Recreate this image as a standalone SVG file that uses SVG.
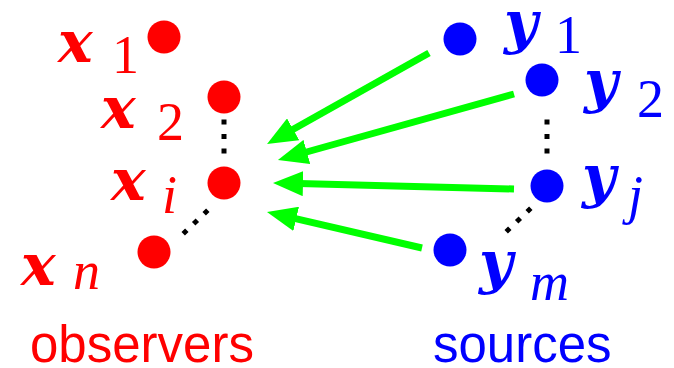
<svg xmlns="http://www.w3.org/2000/svg" width="674" height="368" viewBox="0 0 674 368">
<style>
.r{fill:#ff0000}
.b{fill:#0000ff}
.v{font-family:"DejaVu Serif",serif;font-weight:bold;font-style:italic;font-size:58px}
.s{font-family:"Liberation Serif",serif;font-size:54px}
.si{font-family:"Liberation Serif",serif;font-style:italic;font-size:54px}
.lab{font-family:"Liberation Sans",Arial,sans-serif;font-size:51px}
.dot{stroke:#000;stroke-width:5;stroke-dasharray:5 9.5;fill:none}
.arr{stroke:#00ff00;stroke-width:7;fill:none;marker-end:url(#ah)}
</style>
<defs>
<marker id="ah" markerUnits="userSpaceOnUse" markerWidth="30" markerHeight="25" refX="4" refY="12.5" orient="auto" viewBox="0 0 30 25">
<path d="M0,0 L30,12.5 L0,25 z" fill="#00ff00"/>
</marker>
</defs>
<g id="x1"><circle class="r" cx="164" cy="37" r="16.5"/><text class="v r" x="58" y="62">x</text><text class="s r" x="112" y="73">1</text></g>
<g id="x2"><circle class="r" cx="224" cy="97" r="16.5"/><text class="v r" x="101" y="128">x</text><text class="s r" x="157" y="140">2</text></g>
<g id="xi"><circle class="r" cx="224" cy="183" r="16.5"/><text class="v r" x="111" y="200">x</text><text class="si r" x="162" y="213">i</text></g>
<g id="xn"><circle class="r" cx="154" cy="252" r="16.5"/><text class="v r" x="21" y="285">x</text><text class="si r" x="73" y="289">n</text></g>
<g id="y1"><circle class="b" cx="460" cy="39" r="16.5"/><text class="v b" x="504" y="42">y</text><text class="s b" x="555" y="53">1</text></g>
<g id="y2"><circle class="b" cx="542" cy="80" r="16.5"/><text class="v b" x="584" y="101">y</text><text class="s b" x="637" y="117">2</text></g>
<g id="yj"><circle class="b" cx="547" cy="186" r="16.5"/><text class="v b" x="582" y="196">y</text><text class="si b" x="628" y="213">j</text></g>
<g id="ym"><circle class="b" cx="450" cy="250" r="16.5"/><text class="v b" x="479" y="282">y</text><text class="si b" x="530" y="300">m</text></g>
<g id="connectors">
<line class="dot" x1="224" y1="119.5" x2="224" y2="153.5"/>
<line class="dot" x1="207.8" y1="210.25" x2="183.2" y2="233.75"/>
<line class="dot" x1="547" y1="119.5" x2="547" y2="153.5"/>
<line class="dot" x1="530.8" y1="208.3" x2="506.2" y2="231.7"/>
<line class="arr" x1="429" y1="53" x2="289.7" y2="131.3"/>
<line class="arr" x1="514" y1="94" x2="303" y2="153"/>
<line class="arr" x1="514" y1="189" x2="299" y2="183.6"/>
<line class="arr" x1="422" y1="248" x2="292.3" y2="217.9"/>
</g>
<text class="lab r" x="30" y="362">observers</text>
<text class="lab b" x="433" y="362">sources</text>
</svg>
